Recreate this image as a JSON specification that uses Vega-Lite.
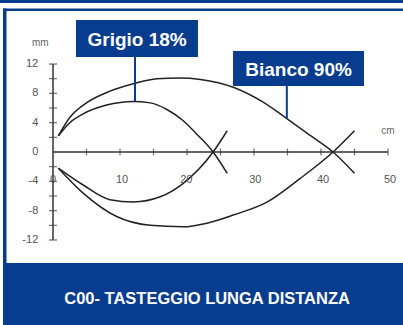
{
  "$schema": "https://vega.github.io/schema/vega-lite/v6.json",
  "width": 403,
  "height": 325,
  "autosize": "none",
  "padding": 0,
  "background": "white",
  "config": {"view": {"stroke": null}, "font": "Liberation Sans"},
  "datasets": {
    "frame": [
      {"part": "top band", "x": -7.91, "x2": 52.24, "y": 20.73, "y2": 20.32},
      {"part": "top line", "x": -7.46, "x2": 52.24, "y": 19.57, "y2": 19.23},
      {"part": "left line", "x": -7.46, "x2": -6.94, "y": 19.57, "y2": -15.14},
      {"part": "footer", "x": -7.46, "x2": 52.24, "y": -15.14, "y2": -23.59}
    ],
    "axes": [
      {"x": 0, "x2": 50, "y": 0, "y2": 0},
      {"x": 0, "x2": 0, "y": -12, "y2": 12}
    ],
    "yticks": [
      {"x": 0, "y": -12}, {"x": 0, "y": -10}, {"x": 0, "y": -8}, {"x": 0, "y": -6},
      {"x": 0, "y": -4}, {"x": 0, "y": -2}, {"x": 0, "y": 2}, {"x": 0, "y": 4},
      {"x": 0, "y": 6}, {"x": 0, "y": 8}, {"x": 0, "y": 10}, {"x": 0, "y": 12}
    ],
    "xticks": [
      {"x": 5, "y": 0}, {"x": 10, "y": 0}, {"x": 15, "y": 0}, {"x": 20, "y": 0},
      {"x": 25, "y": 0}, {"x": 30, "y": 0}, {"x": 35, "y": 0}, {"x": 40, "y": 0},
      {"x": 45, "y": 0}, {"x": 50, "y": 0}
    ],
    "curves": [
      {"s": "bianco_up", "x": 0.8, "y": 2.2}, {"s": "bianco_up", "x": 2.5, "y": 4.7},
      {"s": "bianco_up", "x": 5, "y": 6.7}, {"s": "bianco_up", "x": 8.5, "y": 8.3},
      {"s": "bianco_up", "x": 12, "y": 9.3}, {"s": "bianco_up", "x": 15.5, "y": 10.0},
      {"s": "bianco_up", "x": 19, "y": 10.1}, {"s": "bianco_up", "x": 22, "y": 9.9},
      {"s": "bianco_up", "x": 27, "y": 8.8}, {"s": "bianco_up", "x": 31, "y": 7.0},
      {"s": "bianco_up", "x": 35, "y": 4.5}, {"s": "bianco_up", "x": 38.5, "y": 2.2},
      {"s": "bianco_up", "x": 41.8, "y": 0}, {"s": "bianco_up", "x": 45, "y": -2.9},
      {"s": "bianco_low", "x": 0.8, "y": -2.2}, {"s": "bianco_low", "x": 4.5, "y": -5.6},
      {"s": "bianco_low", "x": 9.5, "y": -8.8}, {"s": "bianco_low", "x": 14.5, "y": -10.0},
      {"s": "bianco_low", "x": 19.4, "y": -10.2}, {"s": "bianco_low", "x": 23, "y": -9.7},
      {"s": "bianco_low", "x": 26.9, "y": -8.6}, {"s": "bianco_low", "x": 32, "y": -6.8},
      {"s": "bianco_low", "x": 36.9, "y": -3.6}, {"s": "bianco_low", "x": 41.8, "y": 0},
      {"s": "bianco_low", "x": 45, "y": 2.9},
      {"s": "grigio_up", "x": 0.8, "y": 2.2}, {"s": "grigio_up", "x": 2.5, "y": 4.0},
      {"s": "grigio_up", "x": 4.5, "y": 5.2}, {"s": "grigio_up", "x": 8, "y": 6.4},
      {"s": "grigio_up", "x": 12, "y": 6.9}, {"s": "grigio_up", "x": 14.5, "y": 6.7},
      {"s": "grigio_up", "x": 17, "y": 5.8}, {"s": "grigio_up", "x": 19.4, "y": 4.3},
      {"s": "grigio_up", "x": 21.5, "y": 2.4}, {"s": "grigio_up", "x": 23.9, "y": 0},
      {"s": "grigio_up", "x": 26, "y": -2.9},
      {"s": "grigio_low", "x": 0.8, "y": -2.2}, {"s": "grigio_low", "x": 4.5, "y": -4.5},
      {"s": "grigio_low", "x": 8.5, "y": -6.5}, {"s": "grigio_low", "x": 12, "y": -6.8},
      {"s": "grigio_low", "x": 16, "y": -6.1}, {"s": "grigio_low", "x": 19.4, "y": -4.3},
      {"s": "grigio_low", "x": 23.9, "y": 0}, {"s": "grigio_low", "x": 26, "y": 2.9}
    ],
    "pointers": [
      {"label": "Grigio 18%", "x": 12.24, "y": 12.95, "y2": 6.85},
      {"label": "Bianco 90%", "x": 34.9, "y": 9.0, "y2": 4.6}
    ],
    "boxes": [
      {"label": "Grigio 18%", "x": 3.43, "x2": 21.64, "y": 18.0, "y2": 12.95, "tx": 12.55, "ty": 15.3},
      {"label": "Bianco 90%", "x": 26.87, "x2": 46.42, "y": 13.77, "y2": 9.0, "tx": 36.65, "ty": 11.2}
    ],
    "ylabels": [
      {"t": "12", "x": -2.2, "y": 12}, {"t": "8", "x": -2.2, "y": 8},
      {"t": "4", "x": -2.2, "y": 4}, {"t": "0", "x": -2.2, "y": 0},
      {"t": "-4", "x": -2.2, "y": -4}, {"t": "-8", "x": -2.2, "y": -8},
      {"t": "-12", "x": -2.2, "y": -12}
    ],
    "xlabels": [
      {"t": "0", "x": 0, "y": -3.8}, {"t": "10", "x": 10.3, "y": -3.8},
      {"t": "20", "x": 19.9, "y": -3.8}, {"t": "30", "x": 30.2, "y": -3.8},
      {"t": "40", "x": 40.3, "y": -3.8}, {"t": "50", "x": 50.3, "y": -3.8}
    ],
    "units": [
      {"t": "mm", "x": -1.9, "y": 14.8}, {"t": "cm", "x": 50, "y": 2.8}
    ],
    "footer": [
      {"t": "C00- TASTEGGIO LUNGA DISTANZA", "x": 23.0, "y": -20.05}
    ]
  },
  "encoding": {
    "x": {"field": "x", "type": "quantitative", "scale": {"domain": [-7.91, 52.24], "nice": false, "zero": false}, "axis": null},
    "y": {"field": "y", "type": "quantitative", "scale": {"domain": [-23.59, 20.73], "nice": false, "zero": false}, "axis": null}
  },
  "layer": [
    {
      "data": {"name": "frame"},
      "mark": {"type": "rect", "color": "#073c8e", "clip": false},
      "encoding": {"x2": {"field": "x2"}, "y2": {"field": "y2"}}
    },
    {
      "data": {"name": "axes"},
      "mark": {"type": "rule", "color": "#333333", "strokeWidth": 1.5},
      "encoding": {"x2": {"field": "x2"}, "y2": {"field": "y2"}}
    },
    {
      "data": {"name": "yticks"},
      "mark": {"type": "tick", "orient": "horizontal", "color": "#333333", "size": 8, "thickness": 1.2}
    },
    {
      "data": {"name": "xticks"},
      "mark": {"type": "tick", "orient": "vertical", "color": "#333333", "size": 7, "thickness": 1.2}
    },
    {
      "data": {"name": "curves"},
      "mark": {"type": "line", "interpolate": "monotone", "color": "#222222", "strokeWidth": 1.5},
      "encoding": {"detail": {"field": "s"}, "order": {"field": "x", "type": "quantitative"}}
    },
    {
      "data": {"name": "pointers"},
      "mark": {"type": "rule", "color": "#073c8e", "strokeWidth": 2},
      "encoding": {"y2": {"field": "y2"}}
    },
    {
      "data": {"name": "boxes"},
      "mark": {"type": "rect", "color": "#073c8e"},
      "encoding": {"x2": {"field": "x2"}, "y2": {"field": "y2"}}
    },
    {
      "data": {"name": "boxes"},
      "mark": {"type": "text", "color": "white", "fontWeight": "bold", "fontSize": 19, "align": "center", "baseline": "middle"},
      "encoding": {
        "x": {"field": "tx", "type": "quantitative"},
        "y": {"field": "ty", "type": "quantitative"},
        "text": {"field": "label"}
      }
    },
    {
      "data": {"name": "ylabels"},
      "mark": {"type": "text", "color": "#555555", "fontSize": 11, "align": "right", "baseline": "middle"},
      "encoding": {"text": {"field": "t"}}
    },
    {
      "data": {"name": "xlabels"},
      "mark": {"type": "text", "color": "#555555", "fontSize": 11, "align": "center", "baseline": "middle"},
      "encoding": {"text": {"field": "t"}}
    },
    {
      "data": {"name": "units"},
      "mark": {"type": "text", "color": "#666666", "fontSize": 10, "align": "center", "baseline": "middle"},
      "encoding": {"text": {"field": "t"}}
    },
    {
      "data": {"name": "footer"},
      "mark": {"type": "text", "color": "white", "fontWeight": "bold", "fontSize": 16.5, "align": "center", "baseline": "middle"},
      "encoding": {"text": {"field": "t"}}
    }
  ]
}
